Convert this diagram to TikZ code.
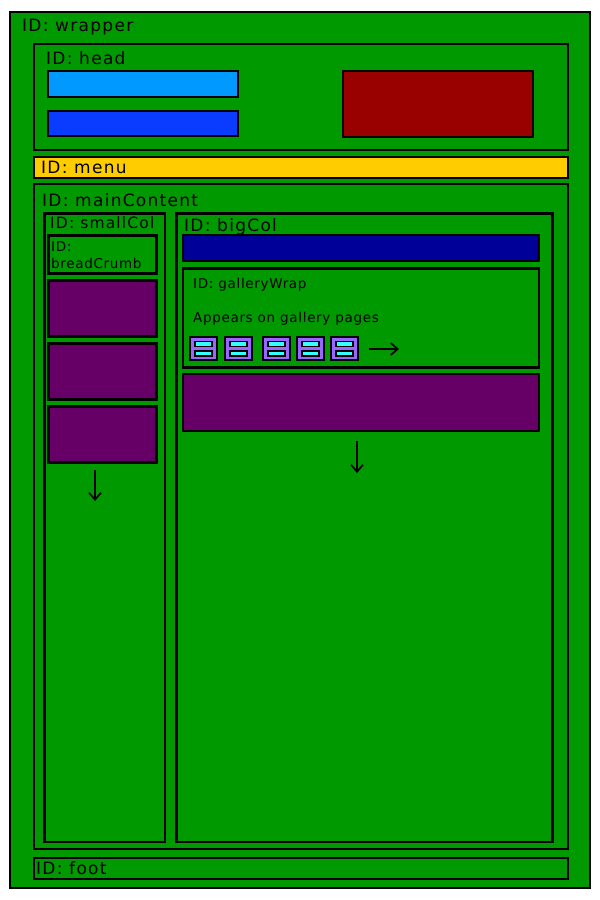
\documentclass[tikz,border=0pt]{standalone}
\usepackage{fontspec}
\setmainfont{DejaVu Sans}
\newfontfamily\lblfont[LetterSpace=7.5]{DejaVu Sans}
\newfontfamily\smlfont[LetterSpace=5]{DejaVu Sans}
\usetikzlibrary{arrows.meta}
\definecolor{pageGreen}{HTML}{009900}
\definecolor{skyBlue}{HTML}{0099FF}
\definecolor{brightBlue}{HTML}{0A3CFF}
\definecolor{bannerRed}{HTML}{990000}
\definecolor{menuYellow}{HTML}{FFCC00}
\definecolor{blockPurple}{HTML}{660066}
\definecolor{navBlue}{HTML}{000099}
\definecolor{thumbViolet}{HTML}{9966FF}
\definecolor{barCyan}{HTML}{33FFFF}

\begin{document}
\begin{tikzpicture}[x=1pt,y=-1pt,
	region/.style={draw,line width=2.2pt,anchor=north west,inner sep=0,outer sep=0},
	lbl/.style={anchor=base west,inner sep=0,font=\lblfont\fontsize{17}{20}\selectfont},
	mid/.style={anchor=base west,inner sep=0,font=\lblfont\fontsize{15.5}{18}\selectfont},
	sml/.style={anchor=base west,inner sep=0,font=\smlfont\fontsize{13.5}{16.7}\selectfont},
	thumb/.style={draw,line width=1.9pt,fill=thumbViolet,minimum width=27pt,minimum height=23pt,inner sep=0},
	bar/.style={draw,line width=1.6pt,fill=barCyan,minimum width=17pt,minimum height=5pt,inner sep=0},
	flow/.style={-{Straight Barb[length=7pt,width=12pt]},line width=1.7pt}]
	\useasboundingbox[fill=white] (0,0) rectangle (600,900);
	
	% outer frame
	\node [region,fill=pageGreen,minimum width=580pt,minimum height=876pt] (wrapper) at (10,12) {};
	\node [lbl] (wrapperLbl) at (22,31) {ID: wrapper};
	
	% head
	\node [region,fill=pageGreen,minimum width=534pt,minimum height=106pt] (head) at (34,44) {};
	\node [lbl] (headLbl) at (46,64) {ID: head};
	\node [region,fill=skyBlue,minimum width=190pt,minimum height=26pt] (logoA) at (48,71) {};
	\node [region,fill=brightBlue,minimum width=190pt,minimum height=25pt] (logoB) at (48,111) {};
	\node [region,fill=bannerRed,minimum width=190pt,minimum height=66pt] (banner) at (343,71) {};
	
	% menu
	\node [region,fill=menuYellow,minimum width=534pt,minimum height=21pt] (menu) at (34,157) {};
	\node [lbl] (menuLbl) at (41,173) {ID: menu};
	
	% main content
	\node [region,fill=pageGreen,minimum width=534pt,minimum height=665pt] (mainContent) at (34,184) {};
	\node [lbl] (mainContentLbl) at (42,206) {ID: mainContent};
	
	% small column
	\node [region,fill=pageGreen,minimum width=120.5pt,minimum height=628.5pt] (smallCol) at (44.5,213.5) {};
	\node [mid] (smallColLbl) at (50,228.5) {ID: smallCol};
	\node [region,fill=pageGreen,minimum width=108pt,minimum height=38pt] (breadCrumb) at (48.5,235.5) {};
	\node [sml,align=left] (breadCrumbLbl) at (51,268) {ID:\\breadCrumb};
	\foreach \y [count=\i] in {280.5,343.5,406.5}
		\node [region,fill=blockPurple,minimum width=108pt,minimum height=56pt] (side\i) at (48.5,\y) {};
	\coordinate (smallFlowS) at (95,470);
	\coordinate (smallFlowE) at (95,501);
	\draw [flow] (smallFlowS) -- (smallFlowE);
	
	% big column
	\node [region,fill=pageGreen,minimum width=376pt,minimum height=628.5pt] (bigCol) at (176.5,213.5) {};
	\node [lbl] (bigColLbl) at (184,231) {ID: bigCol};
	\node [region,fill=navBlue,minimum width=356pt,minimum height=26pt] (nav) at (183,235) {};
	\node [region,fill=pageGreen,minimum width=356pt,minimum height=99pt] (galleryWrap) at (183,268.5) {};
	\node [sml] (galleryWrapLbl) at (193,288) {ID: galleryWrap};
	\node [sml] (galleryNote) at (193,322) {Appears on gallery pages};
	\foreach \x [count=\i] in {203.5,238.5,276.5,310.5,344.5} {
		\node [thumb] (thumb\i) at (\x,348.5) {};
		\node [bar] (barA\i) at (\x,344) {};
		\node [bar] (barB\i) at (\x,353.5) {};
	}
	\coordinate (galleryFlowS) at (369,349);
	\coordinate (galleryFlowE) at (399,349);
	\draw [flow] (galleryFlowS) -- (galleryFlowE);
	\node [region,fill=blockPurple,minimum width=356pt,minimum height=57pt] (content) at (183,374) {};
	\coordinate (bigFlowS) at (357,441);
	\coordinate (bigFlowE) at (357,473);
	\draw [flow] (bigFlowS) -- (bigFlowE);
	
	% foot
	\node [region,fill=pageGreen,minimum width=534pt,minimum height=21pt] (foot) at (34,858) {};
	\node [lbl] (footLbl) at (36,874) {ID: foot};
\end{tikzpicture}
\end{document}
